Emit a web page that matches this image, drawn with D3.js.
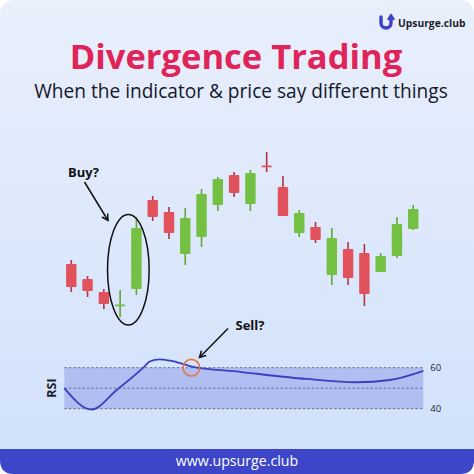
<!DOCTYPE html>
<html>
<head>
<meta charset="utf-8">
<script src="https://cdn.jsdelivr.net/npm/d3@7"></script>
<style>
  html, body { margin: 0; padding: 0; background: #ffffff; }
  #chartDiv { width: 474px; height: 474px; }
  text { font-family: "Open Sans", "Noto Sans", sans-serif; }
</style>
</head>
<body>
<div id="chartDiv"></div>
<script>
// candle data (price in arbitrary units)
const opens  = [66, 51, 38, 25, 41, 130, 118, 76, 93, 125, 155, 126, 164.5, 143, 97, 103, 55, 81, 77, 58, 74, 101];
const highs  = [70, 54, 41, 40, 113, 134, 123, 122, 141, 153, 158, 160, 178, 154, 120, 108, 102, 88, 86, 77, 113, 125];
const lows   = [38, 33, 21, 13, 35, 109, 91, 65, 83, 119, 133, 119, 158, 114, 93, 87, 45, 45, 24, 58, 72, 100];
const closes = [43, 39, 26, 25.5, 102, 113, 97, 112, 136, 151, 137, 157, 164, 114, 117, 90, 92, 52, 36, 74, 106, 121];

// RSI line: time position (0-100 across the panel) and value
const rsiT = [0, 7.6, 14.6, 22, 23.8, 26.5, 29.6, 35.2, 48.9, 67.5, 81.5, 90.7, 100];
const rsiV = [50, 39.6, 49.1, 60, 63.0, 64.1, 63.4, 60.7, 58, 54.5, 52.9, 54, 58.5];
const rsiTicks = [60, 40];
const rsiGuides = [60, 50, 40];

const title = "Divergence Trading";
const subtitle = "When the indicator & price say different things";

let width = 474, height = 474;
let svg = d3.select("#chartDiv").append("svg")
    .attr("width", width)
    .attr("height", height);

let defs = svg.append("defs");
let bg = defs.append("linearGradient").attr("id", "bgGrad")
    .attr("x1", 0).attr("y1", 0).attr("x2", 0).attr("y2", 1);
bg.append("stop").attr("offset", "0%").attr("stop-color", "#e9effb");
bg.append("stop").attr("offset", "100%").attr("stop-color", "#d0e1fb");

// card background
svg.append("rect")
    .attr("width", width).attr("height", height)
    .attr("rx", 14)
    .attr("fill", "url(#bgGrad)");

// footer band (rounded bottom)
svg.append("path")
    .attr("d", "M0,449 H474 V460 Q474,474 460,474 H14 Q0,474 0,460 Z")
    .attr("fill", "#3d45c9");
svg.append("text")
    .attr("x", 237).attr("y", 466)
    .attr("text-anchor", "middle")
    .attr("fill", "#ffffff")
    .style("font-size", "14.2px")
    .text("www.upsurge.club");

// logo
let logo = svg.append("g").attr("transform", "translate(380,14)");
logo.append("path")
    .attr("d", "M1,3 V9 a5,5 0 0 0 10,0 V5")
    .attr("fill", "none").attr("stroke", "#3b40c4").attr("stroke-width", 3.4)
    .attr("stroke-linecap", "round");
logo.append("path")
    .attr("d", "M8,6 L11,1 L14,6")
    .attr("fill", "none").attr("stroke", "#3b40c4").attr("stroke-width", 2.4)
    .attr("stroke-linejoin", "round");
svg.append("text")
    .attr("x", 398).attr("y", 26.5)
    .attr("fill", "#1b1d2e")
    .style("font-size", "10.3px").style("font-weight", 700)
    .text("Upsurge.club");

// titles
svg.append("text")
    .attr("x", 236).attr("y", 69)
    .attr("text-anchor", "middle")
    .attr("fill", "#df2459")
    .style("font-size", "34.5px").style("font-weight", 700)
    .text(title);
svg.append("text")
    .attr("x", 241).attr("y", 97.5)
    .attr("text-anchor", "middle")
    .attr("fill", "#15172a")
    .style("font-size", "19.1px")
    .text(subtitle);

// candle scales
let x = d3.scaleBand()
    .domain(d3.range(opens.length))
    .range([60.2, 424.3])
    .padding(0.36);
let y = d3.scaleLinear()
    .domain([0, 180])
    .range([330, 150]);

let candles = opens.map((o, i) => ({o: o, h: highs[i], l: lows[i], c: closes[i]}));
const upFill = "#74c043", upWick = "#5fa832";
const dnFill = "#e1525c", dnWick = "#b23444";

let cg = svg.append("g").attr("class", "candles");
cg.selectAll("line.wick")
    .data(candles)
    .enter().append("line")
    .attr("class", "wick")
    .attr("x1", (d, i) => x(i) + x.bandwidth() / 2)
    .attr("x2", (d, i) => x(i) + x.bandwidth() / 2)
    .attr("y1", d => y(d.h))
    .attr("y2", d => y(d.l))
    .attr("stroke", d => d.c >= d.o ? upWick : dnWick)
    .attr("stroke-width", 1.6);
cg.selectAll("rect.body")
    .data(candles)
    .enter().append("rect")
    .attr("class", "body")
    .attr("x", (d, i) => x(i))
    .attr("width", x.bandwidth())
    .attr("y", d => y(Math.max(d.o, d.c)))
    .attr("height", d => Math.max(1.8, Math.abs(y(d.o) - y(d.c))))
    .attr("rx", 1)
    .attr("fill", d => d.c >= d.o ? upFill : dnFill);

// annotations
function arrow(g, x1, y1, x2, y2, color) {
    g.append("line")
        .attr("x1", x1).attr("y1", y1).attr("x2", x2).attr("y2", y2)
        .attr("stroke", color).attr("stroke-width", 1.5);
    let a = Math.atan2(y2 - y1, x2 - x1), L = 7, s = 0.5;
    g.append("path")
        .attr("d", `M${x2 - L * Math.cos(a - s)},${y2 - L * Math.sin(a - s)} L${x2},${y2} L${x2 - L * Math.cos(a + s)},${y2 - L * Math.sin(a + s)}`)
        .attr("fill", "none").attr("stroke", color).attr("stroke-width", 1.5);
}
let ann = svg.append("g");
ann.append("ellipse")
    .attr("cx", x(3) + x.bandwidth() + 3).attr("cy", 269.7)
    .attr("rx", 20.8).attr("ry", 55.3)
    .attr("fill", "none").attr("stroke", "#111111").attr("stroke-width", 1.5);
ann.append("text")
    .attr("x", 68).attr("y", 176.5)
    .attr("fill", "#111111")
    .style("font-size", "13px").style("font-weight", 700)
    .text("Buy?");
arrow(ann, 84.5, 182, 108, 220.5, "#111111");

// RSI panel
const panel = {left: 64.3, right: 423.3};
let rx = d3.scaleLinear().domain([0, 100]).range([panel.left, panel.right]);
let ry = d3.scaleLinear().domain([40, 60]).range([408.7, 367.7]);

svg.append("rect")
    .attr("x", rx(0)).attr("y", ry(60))
    .attr("width", rx(100) - rx(0)).attr("height", ry(40) - ry(60))
    .attr("fill", "#a9b7ef").attr("fill-opacity", 0.85);

svg.selectAll("line.guide")
    .data(rsiGuides)
    .enter().append("line")
    .attr("class", "guide")
    .attr("x1", rx(0)).attr("x2", rx(100))
    .attr("y1", d => ry(d)).attr("y2", d => ry(d))
    .attr("stroke", "#6a6f8c").attr("stroke-width", 1)
    .attr("stroke-dasharray", "2.5,2");

let rsiAxis = d3.axisRight(ry).tickValues(rsiTicks).tickSize(0).tickPadding(7);
let axG = svg.append("g")
    .attr("transform", `translate(${rx(100)},0)`)
    .call(rsiAxis);
axG.select(".domain").remove();
axG.selectAll("text")
    .attr("fill", "#22242f")
    .style("font-size", "9.5px")
    .style("font-family", "'Open Sans', sans-serif");

svg.append("text")
    .attr("transform", "translate(56,388) rotate(-90)")
    .attr("text-anchor", "middle")
    .attr("fill", "#1d1f2c")
    .style("font-size", "12.5px").style("font-weight", 700)
    .text("RSI");

let rsiLine = d3.line()
    .x((d, i) => rx(rsiT[i]))
    .y(d => ry(d))
    .curve(d3.curveMonotoneX);
svg.append("path")
    .datum(rsiV)
    .attr("d", rsiLine)
    .attr("fill", "none")
    .attr("stroke", "#3c3fc0")
    .attr("stroke-width", 1.8);

// sell marker
svg.append("circle")
    .attr("cx", rx(35.4)).attr("cy", ry(60))
    .attr("r", 8.3)
    .attr("fill", "none")
    .attr("stroke", "#e8743a").attr("stroke-width", 1.6);
ann.append("text")
    .attr("x", 235.5).attr("y", 330)
    .attr("fill", "#111111")
    .style("font-size", "13px").style("font-weight", 700)
    .text("Sell?");
arrow(ann, 228, 328.5, 199.5, 357.5, "#111111");
</script>
</body>
</html>
